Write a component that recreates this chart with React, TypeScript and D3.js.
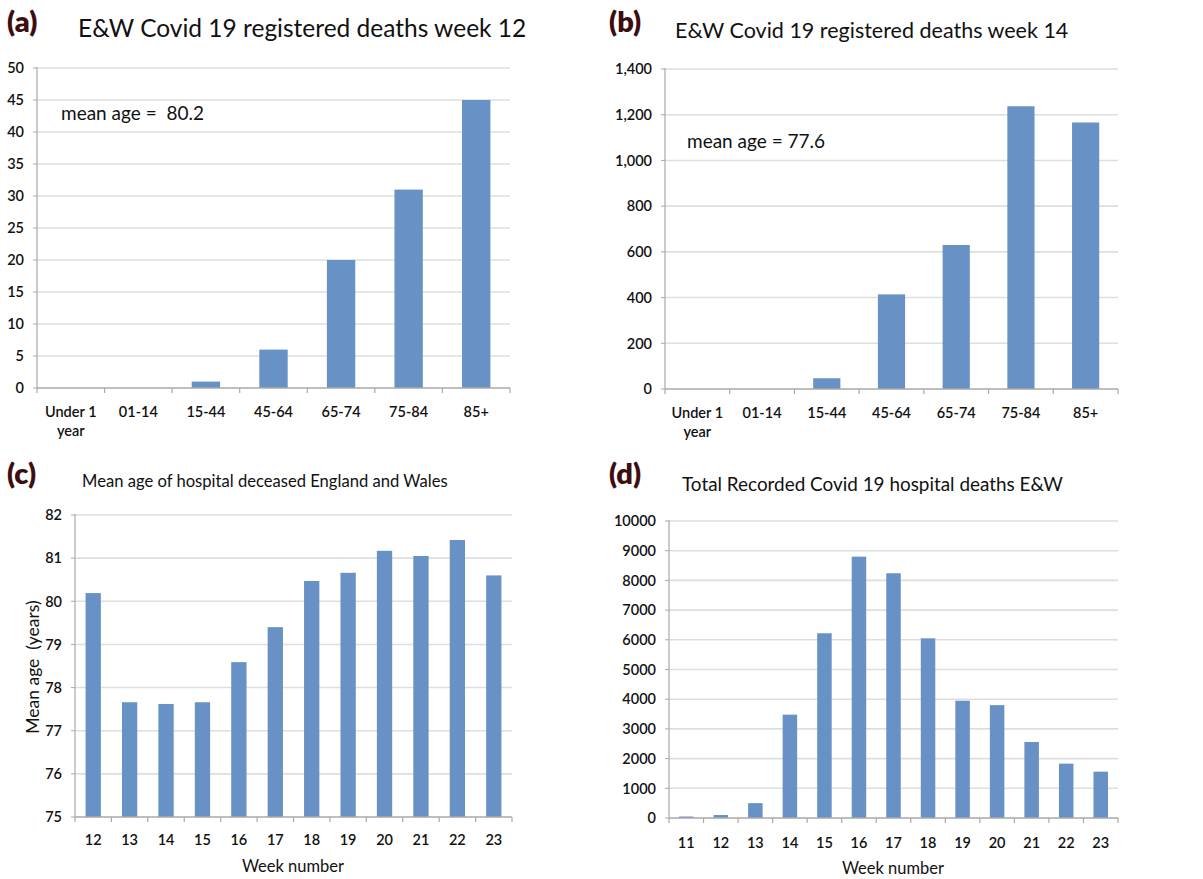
import React from "react";
import * as d3 from "d3";

// Age bands used by the registered-deaths panels
const ageGroups = ["Under 1 year", "01-14", "15-44", "45-64", "65-74", "75-84", "85+"];
const deathsWeek12 = [0, 0, 1, 6, 20, 31, 45];
const deathsWeek14 = [0, 0, 47, 414, 630, 1237, 1166];

// Weekly hospital series
const meanAgeWeeks = ["12", "13", "14", "15", "16", "17", "18", "19", "20", "21", "22", "23"];
const meanAgeValues = [80.19, 77.66, 77.62, 77.66, 78.59, 79.4, 80.47, 80.66, 81.17, 81.05, 81.42, 80.6];

const hospitalWeeks = ["11", "12", "13", "14", "15", "16", "17", "18", "19", "20", "21", "22", "23"];
const hospitalDeaths = [50, 100, 500, 3480, 6220, 8800, 8240, 6050, 3950, 3800, 2560, 1830, 1560];

const BAR = "#6891c6";
const GRID = "#dedede";
const AXIS = "#a9a9a9";
const FONT = "Lato, 'Open Sans', sans-serif";
const PANEL_LETTER = "#3e0d10";

type PanelProps = {
  categories: string[];
  values: number[];
  domain: [number, number];
  step: number;
  left: number;
  right: number;
  top: number;
  bottom: number;
  format?: (v: number) => string;
  tickBaseline: number;
  lineGap?: number;
};

function BarPanel(p: PanelProps) {
  const x = d3.scaleBand<string>().domain(p.categories).range([p.left, p.right]).paddingInner(0.58).paddingOuter(0.29);
  const y = d3.scaleLinear().domain(p.domain).range([p.bottom, p.top]);
  const ticks = d3.range(p.domain[0], p.domain[1] + p.step / 2, p.step);
  const fmt = p.format ?? ((v: number) => String(v));
  const band = (p.right - p.left) / p.categories.length;
  const edges = d3.range(p.categories.length + 1).map((i) => p.left + i * band);
  return (
    <g>
      {ticks.map((t) => (
        <g key={t}>
          {t !== p.domain[0] && (
            <line x1={p.left} x2={p.right} y1={y(t)} y2={y(t)} stroke={GRID} strokeWidth={1.6} />
          )}
          <line x1={p.left - 4} x2={p.left} y1={y(t)} y2={y(t)} stroke={AXIS} strokeWidth={1} />
          <text x={p.left - 13} y={y(t)} dy="0.36em" textAnchor="end" fontSize={14.5} fontWeight={600} fill="#111">
            {fmt(t)}
          </text>
        </g>
      ))}
      {p.categories.map((c, i) => (
        <rect key={c} x={x(c)} y={y(p.values[i])} width={x.bandwidth()} height={p.bottom - y(p.values[i])} fill={BAR} />
      ))}
      <line x1={p.left} x2={p.left} y1={p.top - 1} y2={p.bottom} stroke={AXIS} strokeWidth={1.2} />
      <line x1={p.left} x2={p.right} y1={p.bottom} y2={p.bottom} stroke={AXIS} strokeWidth={1.4} />
      {edges.map((e, i) => (
        <line key={i} x1={e} x2={e} y1={p.bottom} y2={p.bottom + 5} stroke={AXIS} strokeWidth={1.2} />
      ))}
      {p.categories.map((c) => {
        const cx = (x(c) ?? 0) + x.bandwidth() / 2;
        const parts = c === "Under 1 year" ? ["Under 1", "year"] : [c];
        return (
          <text key={c} x={cx} y={p.tickBaseline} textAnchor="middle" fontSize={14.5} fontWeight={600} fill="#111">
            {parts.map((s, k) => (
              <tspan key={k} x={cx} dy={k === 0 ? 0 : p.lineGap ?? 19}>
                {s}
              </tspan>
            ))}
          </text>
        );
      })}
    </g>
  );
}

export default function App() {
  const comma = d3.format(",");
  const letter = { fontSize: 29, fontWeight: 800, fill: PANEL_LETTER } as const;
  return (
    <svg
      width={1203}
      height={879}
      viewBox="0 0 1203 879"
      style={{ position: "absolute", left: 0, top: 0, background: "#fff" }}
      fontFamily={FONT}
    >
      <rect width={1203} height={879} fill="#fff" />

      {/* (a) */}
      <text x={7} y={32} {...letter}>(a)</text>
      <text x={78} y={37} fontSize={24.5} fill="#111">E&amp;W Covid 19 registered deaths week 12</text>
      <BarPanel
        categories={ageGroups}
        values={deathsWeek12}
        domain={[0, 50]}
        step={5}
        left={37}
        right={510}
        top={68}
        bottom={388}
        tickBaseline={417}
      />
      <text x={61} y={120} fontSize={19} fill="#111" style={{ whiteSpace: "pre" }}>mean age =  80.2</text>

      {/* (b) */}
      <text x={609} y={32} {...letter}>(b)</text>
      <text x={675} y={38} fontSize={21.5} fill="#111">E&amp;W Covid 19 registered deaths week 14</text>
      <BarPanel
        categories={ageGroups}
        values={deathsWeek14}
        domain={[0, 1400]}
        step={200}
        left={665}
        right={1118}
        top={69}
        bottom={389}
        format={comma}
        tickBaseline={418}
      />
      <text x={687} y={148} fontSize={19} fill="#111">mean age = 77.6</text>

      {/* (c) */}
      <text x={7} y={484} {...letter}>(c)</text>
      <text x={82} y={487} fontSize={16.6} fill="#111">Mean age of hospital deceased England and Wales</text>
      <BarPanel
        categories={meanAgeWeeks}
        values={meanAgeValues}
        domain={[75, 82]}
        step={1}
        left={75}
        right={512}
        top={515}
        bottom={817}
        tickBaseline={845}
      />
      <text x={293} y={872} fontSize={16.5} textAnchor="middle" fill="#111">Week number</text>
      <text transform="translate(39,667) rotate(-90)" fontSize={17.5} textAnchor="middle" fill="#111" style={{ whiteSpace: "pre" }}>
        Mean age  (years)
      </text>

      {/* (d) */}
      <text x={609} y={484} {...letter}>(d)</text>
      <text x={682} y={491} fontSize={18.9} fill="#111">Total Recorded Covid 19 hospital deaths E&amp;W</text>
      <BarPanel
        categories={hospitalWeeks}
        values={hospitalDeaths}
        domain={[0, 10000]}
        step={1000}
        left={669}
        right={1118}
        top={521}
        bottom={818}
        tickBaseline={848}
      />
      <text x={893} y={874} fontSize={16.5} textAnchor="middle" fill="#111">Week number</text>
    </svg>
  );
}
